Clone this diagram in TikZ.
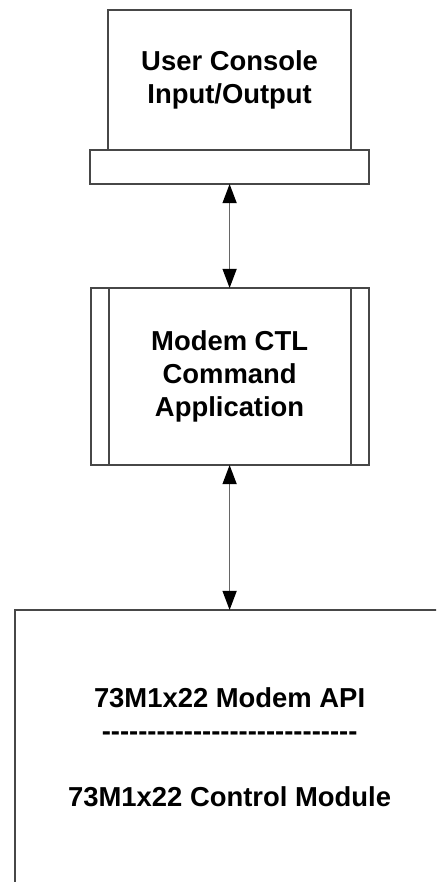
\documentclass[tikz,border=0pt]{standalone}
\usepackage{fontspec}
\setmainfont{Liberation Sans}
\usetikzlibrary{positioning,calc,arrows.meta}
\tikzset{every picture/.style={>={Triangle[length=0.48cm,width=0.35cm,color=black]}}}

\begin{document}
\begin{tikzpicture}[
    every node/.style={font=\fontsize{19.5}{23.5}\selectfont\bfseries, align=center},
    box/.style={draw=black!72, line width=1.3pt, inner sep=0pt, outer sep=0pt},
    link/.style={<->, draw=black!60, line width=1.2pt}
]

% page frame (bottom box runs off the page)
\useasboundingbox (0,0) rectangle (10.9,-22.05);
\clip (0,0) rectangle (10.9,-22.05);

% ------------------------------------------------------------
% User console (screen on a stand)
% ------------------------------------------------------------
\node[box, minimum width=6.075cm, minimum height=3.5cm] (console) at (5.74,-2.0)
    {User Console\\Input/Output};
\node[box, minimum width=6.975cm, minimum height=0.85cm, below=0pt of console] (stand) {};

% ------------------------------------------------------------
% Command application
% ------------------------------------------------------------
\node[box, minimum width=6.95cm, minimum height=4.425cm, below=2.6cm of stand] (ctlapp)
    {Modem CTL\\Command\\Application};
\draw[box] ($(ctlapp.north west)+(0.45,0)$) -- ($(ctlapp.south west)+(0.45,0)$);
\draw[box] ($(ctlapp.north east)+(-0.45,0)$) -- ($(ctlapp.south east)+(-0.45,0)$);

% ------------------------------------------------------------
% Modem API / control module
% ------------------------------------------------------------
\node[box, minimum width=10.725cm, minimum height=6.875cm, below=3.625cm of ctlapp] (api)
    {73M1x22 Modem API\\\foreach \k in {1,...,28}{-}\\[23.5pt]73M1x22 Control Module};

% Links
\draw[link] (stand.south) -- (ctlapp.north);
\draw[link] (ctlapp.south) -- (api.north);

\end{tikzpicture}
\end{document}
